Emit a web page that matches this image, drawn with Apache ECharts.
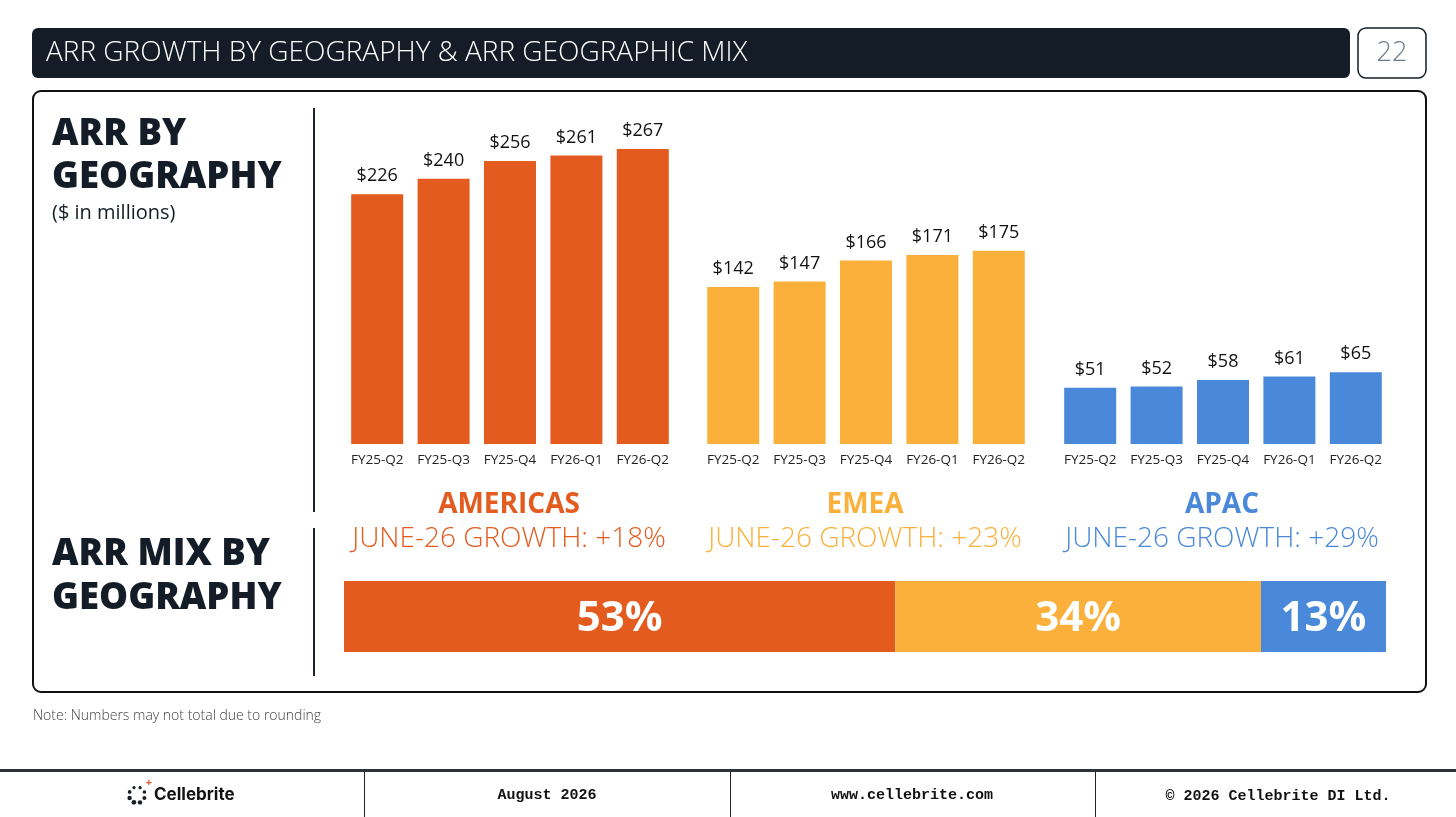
<!DOCTYPE html>
<html>
<head>
<meta charset="utf-8">
<title>ARR Growth by Geography</title>
<script src="https://cdn.jsdelivr.net/npm/echarts@6/dist/echarts.min.js"></script>
<style>
  html, body { margin: 0; padding: 0; background: #fff; }
  #chart { width: 1456px; height: 817px; }
</style>
</head>
<body>
<div id="chart"></div>
<script>
// chart data
const quarters = ['FY25-Q2', 'FY25-Q3', 'FY25-Q4', 'FY26-Q1', 'FY26-Q2'];
const americasArr = [226, 240, 256, 261, 267];
const emeaArr = [142, 147, 166, 171, 175];
const apacArr = [51, 52, 58, 61, 65];
const regions = ['AMERICAS', 'EMEA', 'APAC'];
const growth = ['+18%', '+23%', '+29%'];
const mixShare = [52.9, 35.1, 12.0];   // widths as drawn
const mixLabels = ['53%', '34%', '13%'];

const colors = ['#E35B1E', '#FBB03B', '#4A89DA'];
const FONT = '"Open Sans", "Noto Sans", sans-serif';
const MONO = '"Liberation Mono", "DejaVu Sans Mono", monospace';

const groupLeft = [344, 700, 1057];
const groupWidth = 332;
const barBottom = 444;
const yMax = 300;
const pxPerUnit = 1.105;
const gridHeight = yMax * pxPerUnit;

const groupData = [americasArr, emeaArr, apacArr];

let myChart = echarts.init(document.getElementById('chart'));

const grids = [], xAxes = [], yAxes = [], series = [], titles = [];

groupData.forEach((vals, i) => {
    grids.push({ left: groupLeft[i], width: groupWidth, top: barBottom - gridHeight, height: gridHeight });
    xAxes.push({
        type: 'category', gridIndex: i, data: quarters,
        axisLine: { show: false }, axisTick: { show: false },
        axisLabel: { color: '#222', fontSize: 13.5, fontFamily: FONT, margin: 9, interval: 0 }
    });
    yAxes.push({ type: 'value', gridIndex: i, min: 0, max: yMax, show: false, splitLine: { show: false } });
    series.push({
        name: regions[i], type: 'bar', xAxisIndex: i, yAxisIndex: i,
        barWidth: 52, data: vals,
        itemStyle: { color: colors[i] },
        label: {
            show: true, position: 'top', distance: 9,
            color: '#111', fontSize: 18, fontFamily: FONT,
            formatter: p => '$' + p.value
        }
    });
    const cx = groupLeft[i] + groupWidth / 2 - 6;
    titles.push({
        text: regions[i], left: cx, top: 486, textAlign: 'center',
        textStyle: { color: colors[i], fontSize: 28, fontWeight: 'bold', fontFamily: FONT }
    });
    titles.push({
        text: 'JUNE-26 GROWTH: ' + growth[i], left: cx, top: 520, textAlign: 'center',
        textStyle: { color: colors[i], fontSize: 28, fontWeight: 300, fontFamily: FONT }
    });
});

// geographic mix bar
grids.push({ left: 344, width: 1042, top: 581, height: 71 });
xAxes.push({ type: 'value', gridIndex: 3, min: 0, max: 100, show: false, splitLine: { show: false } });
yAxes.push({ type: 'category', gridIndex: 3, data: ['mix'], show: false });
mixShare.forEach((v, i) => {
    series.push({
        name: regions[i] + ' mix', type: 'bar', stack: 'mix',
        xAxisIndex: 3, yAxisIndex: 3, barWidth: 71, data: [v],
        itemStyle: { color: colors[i] },
        label: {
            show: true, position: 'inside', color: '#fff', offset: [0, 3],
            fontSize: 42, fontWeight: 'bold', fontFamily: FONT,
            formatter: () => mixLabels[i]
        }
    });
});

// logo dots
const logoDots = [];
const dotR = [1.6, 1.8, 2.0, 2.2, 2.4, 2.2, 1.9, 1.6];
for (let k = 0; k < 8; k++) {
    const a = -Math.PI / 2 + k * Math.PI / 4 + 0.4;
    logoDots.push({
        type: 'circle', silent: true,
        shape: { cx: 137 + 8 * Math.cos(a), cy: 795 + 8 * Math.sin(a), r: dotR[k] },
        style: { fill: '#1a1f26' }
    });
}

const graphic = [
    // header bar
    { type: 'rect', shape: { x: 32, y: 28, width: 1318, height: 50, r: 6 }, style: { fill: '#141D27' } },
    { type: 'text', x: 46, y: 53, style: { text: 'ARR GROWTH BY GEOGRAPHY & ARR GEOGRAPHIC MIX', fill: '#fff', font: '300 28px ' + FONT, textVerticalAlign: 'middle' } },
    { type: 'rect', shape: { x: 1358, y: 28, width: 68, height: 50, r: 8 }, style: { fill: '#fff', stroke: '#141D27', lineWidth: 1.5 } },
    { type: 'text', x: 1392, y: 53, style: { text: '22', fill: '#6E7B89', font: '300 27px ' + FONT, textAlign: 'center', textVerticalAlign: 'middle' } },
    // main box
    { type: 'rect', shape: { x: 33, y: 91, width: 1393, height: 601, r: 8 }, style: { fill: 'none', stroke: '#111', lineWidth: 2 } },
    { type: 'line', shape: { x1: 314, y1: 108, x2: 314, y2: 512 }, style: { stroke: '#1a222b', lineWidth: 2 } },
    { type: 'line', shape: { x1: 314, y1: 528, x2: 314, y2: 676 }, style: { stroke: '#1a222b', lineWidth: 2 } },
    // left labels
    { type: 'text', left: 52, top: 113, style: { text: 'ARR BY\nGEOGRAPHY', fill: '#141D27', font: '800 36.5px ' + FONT, lineHeight: 43 } },
    { type: 'text', left: 52, top: 203, style: { text: '($ in millions)', fill: '#141D27', font: '20px ' + FONT } },
    { type: 'text', left: 52, top: 533, style: { text: 'ARR MIX BY\nGEOGRAPHY', fill: '#141D27', font: '800 36.5px ' + FONT, lineHeight: 44 } },
    // note
    { type: 'text', left: 33, top: 709, style: { text: 'Note: Numbers may not total due to rounding', fill: '#444', font: '300 14px ' + FONT } },
    // footer
    { type: 'rect', shape: { x: 0, y: 769, width: 1456, height: 3 }, style: { fill: '#2D3339' } },
    { type: 'line', shape: { x1: 364.5, y1: 771, x2: 364.5, y2: 817 }, style: { stroke: '#222', lineWidth: 1 } },
    { type: 'line', shape: { x1: 730.5, y1: 771, x2: 730.5, y2: 817 }, style: { stroke: '#222', lineWidth: 1 } },
    { type: 'line', shape: { x1: 1095.5, y1: 771, x2: 1095.5, y2: 817 }, style: { stroke: '#222', lineWidth: 1 } },
    { type: 'text', x: 547, y: 795, style: { text: 'August 2026', fill: '#111', font: 'bold 15px ' + MONO, textAlign: 'center', textVerticalAlign: 'middle' } },
    { type: 'text', x: 912, y: 795, style: { text: 'www.cellebrite.com', fill: '#111', font: 'bold 15px ' + MONO, textAlign: 'center', textVerticalAlign: 'middle' } },
    { type: 'text', x: 1278, y: 796, style: { text: '\u00A9 2026 Cellebrite DI Ltd.', fill: '#111', font: 'bold 15px ' + MONO, textAlign: 'center', textVerticalAlign: 'middle' } },
    // logo
    ...logoDots,
    { type: 'text', x: 149, y: 783, style: { text: '+', fill: '#E35B1E', font: 'bold 11px ' + FONT, textAlign: 'center', textVerticalAlign: 'middle' } },
    { type: 'text', x: 154, y: 795, style: { text: 'Cellebrite', fill: '#111', font: 'bold 17px Inter, ' + FONT, textVerticalAlign: 'middle' } }
];

const option = {
    animation: false,
    backgroundColor: '#fff',
    title: titles,
    grid: grids,
    xAxis: xAxes,
    yAxis: yAxes,
    series: series,
    graphic: graphic
};
myChart.setOption(option);
window.onresize = myChart.resize;
</script>
</body>
</html>
